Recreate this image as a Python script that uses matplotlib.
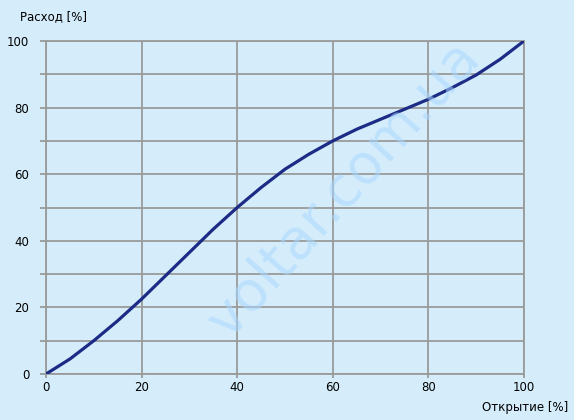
import numpy as np
import matplotlib.pyplot as plt

# values
opening = [0, 5, 10, 15, 20, 25, 30, 35, 40, 45, 50, 55, 60, 65, 70, 75, 80, 85, 90, 95, 100]
flow = [0, 4.5, 10, 16, 22.5, 29.5, 36.5, 43.5, 50, 56, 61.5, 66, 70, 73.5, 76.5, 79.5, 82.5, 86, 89.8, 94.5, 100]
x_ticks = [0, 20, 40, 60, 80, 100]
y_ticks = [0, 20, 40, 60, 80, 100]
y_grid = [10, 30, 50, 70, 90]

bg = '#d5edfb'
grid_c = '#9a9a9a'
line_c = '#1c2b85'

fig = plt.figure(figsize=(5.74, 4.2), dpi=100)
fig.patch.set_facecolor(bg)
ax = fig.add_axes([46/574, 46/420, 478/574, 333/420])
ax.set_facecolor(bg)

ax.plot(opening, flow, color=line_c, lw=2.3, solid_capstyle='round',
        solid_joinstyle='round', zorder=3)

ax.set_xlim(0, 100)
ax.set_ylim(0, 100)
ax.set_xticks(x_ticks)
ax.set_yticks(y_ticks)
ax.set_yticks(y_grid, minor=True)
ax.grid(True, which='both', color=grid_c, lw=1.3)
for s in ax.spines.values():
    s.set_color(grid_c)
    s.set_linewidth(1.3)
ax.tick_params(which='both', color=grid_c, width=1.3, labelsize=8.5,
               labelcolor='black')
ax.tick_params(axis='y', which='both', length=4, pad=8)
ax.tick_params(axis='x', length=3, pad=2)

fig.text(20/574, 1 - 17/420, 'Расход [%]', fontsize=8.5, va='center', ha='left')
fig.text(568/574, 1 - 408/420, 'Открытие [%]', fontsize=8.5, va='center', ha='right')

# faint watermark
fig.text(0.6, 0.55, 'voltar.com.ua', fontsize=40, color='#a9d8ff', alpha=0.55,
         rotation=48, ha='center', va='center', zorder=0)

fig.savefig('out.png', dpi=100, facecolor=bg)
